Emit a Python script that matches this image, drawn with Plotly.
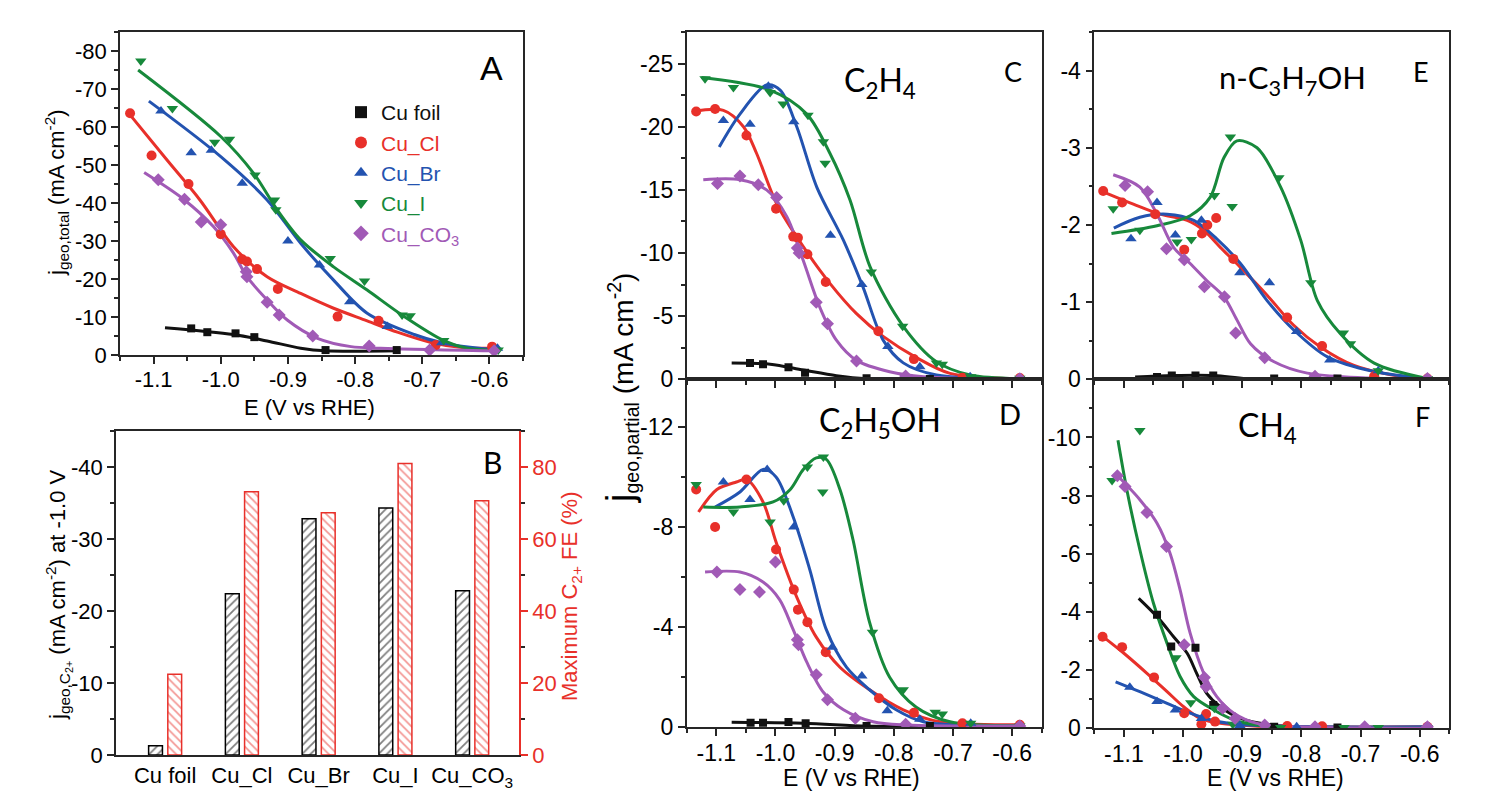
import plotly.graph_objects as go

W, H = 1495, 800

# ---------------- colours / names ----------------
series_names = ["Cu foil", "Cu_Cl", "Cu_Br", "Cu_I", "Cu_CO<sub>3</sub>"]
series_colors = ["#111111", "#e8302a", "#2353b0", "#17893b", "#a15ab6"]
series_symbols = ["square", "circle", "triangle-up", "triangle-down", "diamond"]

# ---------------- Panel A : total current ----------------
A_foil_E = [-1.044, -1.020, -0.978, -0.950, -0.844, -0.738]
A_foil_j = [-7.0, -6.0, -5.7, -4.7, -1.3, -1.3]
A_foil_fitE = [-1.083, -0.981, -0.931, -0.881, -0.844, -0.738]
A_foil_fitj = [-7.2, -5.4, -3.7, -1.8, -1.1, -1.1]

A_cl_E = [-1.135, -1.103, -1.048, -1.000, -0.968, -0.961, -0.946, -0.915, -0.826, -0.765, -0.680, -0.596]
A_cl_j = [-63.6, -52.5, -45.0, -31.8, -25.2, -24.6, -22.6, -17.4, -10.1, -9.0, -2.6, -2.2]
A_cl_fitE = [-1.135, -1.080, -1.031, -0.981, -0.931, -0.881, -0.832, -0.782, -0.737, -0.687, -0.638, -0.598]
A_cl_fitj = [-63.2, -51.3, -40.8, -28.5, -20.6, -16.2, -12.3, -9.0, -6.0, -3.3, -1.9, -1.8]

A_br_E = [-1.089, -1.044, -1.014, -0.968, -0.900, -0.853, -0.808, -0.752, -0.671, -0.588]
A_br_j = [-64.2, -53.2, -53.9, -45.2, -30.0, -23.7, -14.0, -7.5, -3.2, -1.8]
A_br_fitE = [-1.107, -1.000, -0.931, -0.881, -0.832, -0.782, -0.712, -0.672, -0.612, -0.588]
A_br_fitj = [-66.8, -52.2, -40.8, -29.4, -19.7, -11.0, -5.4, -3.3, -1.7, -1.5]

A_i_E = [-1.119, -1.072, -1.009, -0.987, -0.949, -0.920, -0.918, -0.837, -0.786, -0.730, -0.718, -0.668, -0.587]
A_i_j = [-77.4, -64.9, -56.0, -56.8, -47.4, -40.8, -38.2, -25.4, -19.5, -10.5, -10.3, -3.8, -1.3]
A_i_fitE = [-1.123, -1.000, -0.951, -0.916, -0.881, -0.832, -0.782, -0.730, -0.668, -0.633, -0.588]
A_i_fitj = [-75.0, -57.5, -47.8, -38.2, -30.3, -23.2, -17.1, -10.5, -3.8, -1.8, -1.3]

A_co3_E = [-1.093, -1.054, -1.029, -1.000, -0.962, -0.961, -0.931, -0.913, -0.863, -0.779, -0.689, -0.593]
A_co3_j = [-46.1, -41.0, -35.0, -34.3, -21.9, -20.6, -13.9, -10.5, -5.0, -2.4, -1.3, -1.1]
A_co3_fitE = [-1.114, -1.054, -1.011, -0.981, -0.961, -0.931, -0.901, -0.856, -0.806, -0.762, -0.593]
A_co3_fitj = [-48.0, -40.8, -33.8, -26.8, -20.6, -14.5, -9.2, -4.4, -2.2, -1.8, -1.1]

# ---------------- Panel B : bars ----------------
B_categories = ["Cu foil", "Cu_Cl", "Cu_Br", "Cu_I", "Cu_CO<sub>3</sub>"]
B_j_c2 = [-1.3, -22.4, -32.8, -34.3, -22.8]
B_fe_c2 = [22.4, 73.1, 67.3, 81.0, 70.6]

# ---------------- Panel C : C2H4 ----------------
C_foil_E = [-1.043, -1.021, -0.978, -0.950, -0.846, -0.739]
C_foil_j = [-1.3, -1.2, -0.95, -0.52, -0.08, -0.02]
C_foil_fitE = [-1.074, -1.009, -0.953, -0.897, -0.846, -0.739]
C_foil_fitj = [-1.3, -1.2, -0.74, -0.29, -0.05, -0.02]

C_cl_E = [-1.134, -1.102, -1.049, -0.999, -0.970, -0.962, -0.946, -0.915, -0.826, -0.766, -0.684, -0.587]
C_cl_j = [-21.2, -21.4, -19.3, -13.5, -11.3, -11.2, -9.9, -7.7, -3.8, -1.6, -0.13, -0.1]
C_cl_fitE = [-1.139, -1.088, -1.054, -1.032, -0.998, -0.953, -0.908, -0.863, -0.818, -0.761, -0.705, -0.587]
C_cl_fitj = [-21.2, -21.3, -20.0, -17.9, -13.9, -10.5, -7.6, -5.2, -3.4, -1.7, -0.47, -0.05]

C_br_E = [-1.088, -1.043, -1.012, -0.969, -0.907, -0.854, -0.810, -0.756, -0.671, -0.587]
C_br_j = [-20.5, -20.2, -23.2, -20.4, -11.4, -7.5, -2.6, -1.0, -0.2, -0.1]
C_br_fitE = [-1.095, -1.060, -1.015, -0.992, -0.964, -0.930, -0.885, -0.852, -0.818, -0.784, -0.728, -0.587]
C_br_fitj = [-18.4, -21.0, -23.3, -22.9, -20.0, -15.2, -11.0, -7.3, -3.1, -1.3, -0.34, -0.05]

C_i_E = [-1.119, -1.071, -1.009, -0.987, -0.945, -0.919, -0.916, -0.838, -0.785, -0.728, -0.718, -0.670, -0.587]
C_i_j = [-23.8, -23.1, -22.7, -21.8, -20.9, -18.8, -17.1, -8.5, -4.2, -1.3, -1.2, -0.2, -0.08]
C_i_fitE = [-1.125, -1.009, -0.947, -0.908, -0.874, -0.840, -0.784, -0.728, -0.671, -0.587]
C_i_fitj = [-23.9, -22.9, -21.0, -17.9, -14.2, -8.9, -4.2, -1.4, -0.34, -0.05]

C_co3_E = [-1.098, -1.060, -1.029, -0.998, -0.963, -0.960, -0.931, -0.912, -0.863, -0.780, -0.587]
C_co3_j = [-15.5, -16.1, -15.4, -14.4, -10.4, -10.0, -6.1, -4.4, -1.45, -0.26, -0.05]
C_co3_fitE = [-1.122, -1.060, -1.015, -0.981, -0.953, -0.925, -0.897, -0.863, -0.807, -0.750, -0.587]
C_co3_fitj = [-15.8, -15.8, -15.0, -12.9, -9.4, -5.7, -3.1, -1.5, -0.6, -0.2, 0.0]

# ---------------- Panel D : C2H5OH ----------------
D_foil_E = [-1.042, -1.021, -0.978, -0.949, -0.846, -0.739]
D_foil_j = [-0.18, -0.18, -0.21, -0.16, -0.05, -0.05]
D_foil_fitE = [-1.074, -0.953, -0.846, -0.739]
D_foil_fitj = [-0.2, -0.16, -0.05, -0.02]

D_cl_E = [-1.134, -1.102, -1.049, -0.999, -0.969, -0.962, -0.946, -0.915, -0.825, -0.766, -0.684, -0.587]
D_cl_j = [-9.5, -8.0, -9.9, -7.1, -5.5, -4.7, -4.2, -3.0, -1.16, -0.58, -0.16, -0.1]
D_cl_fitE = [-1.130, -1.099, -1.066, -1.049, -1.021, -0.999, -0.964, -0.931, -0.891, -0.841, -0.784, -0.722, -0.587]
D_cl_fitj = [-8.6, -9.5, -9.8, -9.9, -9.0, -7.4, -5.2, -3.6, -2.4, -1.5, -0.7, -0.22, -0.1]

D_br_E = [-1.088, -1.043, -1.014, -0.969, -0.904, -0.854, -0.811, -0.756, -0.670, -0.587]
D_br_j = [-9.8, -9.1, -10.3, -8.0, -3.2, -2.05, -0.66, -0.32, -0.16, -0.05]
D_br_fitE = [-1.102, -1.060, -1.021, -0.999, -0.970, -0.942, -0.914, -0.880, -0.841, -0.796, -0.750, -0.694, -0.587]
D_br_fitj = [-8.8, -9.4, -10.3, -10.0, -8.4, -6.3, -3.9, -2.4, -1.5, -0.7, -0.22, -0.09, -0.05]

D_i_E = [-1.134, -1.071, -1.009, -0.986, -0.946, -0.919, -0.920, -0.836, -0.784, -0.730, -0.718, -0.670, -0.587]
D_i_j = [-9.7, -8.6, -8.2, -9.05, -10.4, -10.8, -9.4, -3.8, -1.5, -0.6, -0.53, -0.16, -0.05]
D_i_fitE = [-1.122, -1.060, -1.004, -0.975, -0.953, -0.931, -0.914, -0.891, -0.869, -0.841, -0.807, -0.762, -0.705, -0.587]
D_i_fitj = [-8.8, -8.8, -9.0, -9.5, -10.3, -10.76, -10.7, -9.5, -7.5, -4.2, -2.0, -0.8, -0.22, -0.05]

D_co3_E = [-1.099, -1.060, -1.027, -1.000, -0.963, -0.961, -0.931, -0.912, -0.865, -0.780, -0.587]
D_co3_j = [-6.2, -5.5, -5.4, -6.6, -3.5, -3.3, -2.1, -1.1, -0.36, -0.12, -0.05]
D_co3_fitE = [-1.119, -1.060, -1.021, -0.993, -0.970, -0.947, -0.919, -0.885, -0.835, -0.778, -0.587]
D_co3_fitj = [-6.2, -6.2, -5.8, -5.1, -3.9, -2.6, -1.4, -0.7, -0.22, -0.09, -0.05]

# ---------------- Panel E : n-C3H7OH ----------------
E_foil_E = [-1.044, -1.019, -0.979, -0.949, -0.846, -0.739]
E_foil_j = [-0.03, -0.05, -0.05, -0.05, -0.01, -0.01]
E_foil_fitE = [-1.081, -1.016, -0.947, -0.892, -0.734]
E_foil_fitj = [-0.03, -0.05, -0.05, -0.01, 0.0]

E_cl_E = [-1.135, -1.103, -1.047, -0.998, -0.968, -0.959, -0.944, -0.915, -0.824, -0.765, -0.677, -0.587]
E_cl_j = [-2.44, -2.29, -2.14, -1.68, -1.89, -2.0, -2.09, -1.56, -0.80, -0.43, -0.04, -0.01]
E_cl_fitE = [-1.135, -1.084, -1.039, -0.993, -0.965, -0.937, -0.903, -0.858, -0.813, -0.768, -0.711, -0.649, -0.587]
E_cl_fitj = [-2.43, -2.27, -2.14, -2.06, -1.93, -1.71, -1.45, -1.09, -0.70, -0.42, -0.18, -0.06, -0.01]

E_br_E = [-1.088, -1.044, -1.013, -0.969, -0.904, -0.854, -0.808, -0.752, -0.670, -0.587]
E_br_j = [-1.82, -2.29, -1.87, -2.06, -1.38, -1.25, -0.62, -0.25, -0.11, -0.01]
E_br_fitE = [-1.117, -1.073, -1.027, -0.982, -0.943, -0.903, -0.858, -0.813, -0.756, -0.677, -0.587]
E_br_fitj = [-1.96, -2.10, -2.14, -2.06, -1.82, -1.50, -1.02, -0.64, -0.29, -0.10, -0.01]

E_i_E = [-1.118, -1.073, -1.010, -0.986, -0.947, -0.917, -0.920, -0.838, -0.784, -0.729, -0.717, -0.670, -0.587]
E_i_j = [-2.21, -1.93, -1.78, -1.81, -2.38, -2.24, -3.14, -2.61, -1.25, -0.60, -0.46, -0.11, -0.01]
E_i_fitE = [-1.121, -1.044, -0.988, -0.954, -0.931, -0.909, -0.875, -0.835, -0.801, -0.773, -0.734, -0.677, -0.587]
E_i_fitj = [-1.89, -1.99, -2.12, -2.36, -2.87, -3.09, -3.0, -2.49, -1.80, -1.02, -0.59, -0.21, -0.01]

E_co3_E = [-1.098, -1.060, -1.028, -0.998, -0.964, -0.930, -0.911, -0.862, -0.777, -0.587]
E_co3_j = [-2.51, -2.43, -1.69, -1.55, -1.20, -1.07, -0.60, -0.28, -0.04, -0.01]
E_co3_fitE = [-1.118, -1.073, -1.044, -1.016, -0.988, -0.960, -0.931, -0.909, -0.886, -0.847, -0.790, -0.587]
E_co3_fitj = [-2.65, -2.49, -2.14, -1.71, -1.50, -1.28, -1.07, -0.77, -0.46, -0.23, -0.08, 0.0]

# ---------------- Panel F : CH4 ----------------
F_foil_E = [-1.044, -1.020, -0.979, -0.949, -0.846, -0.739]
F_foil_j = [-3.90, -2.81, -2.77, -0.80, -0.05, -0.03]
F_foil_fitE = [-1.075, -1.044, -1.016, -0.993, -0.977, -0.960, -0.937, -0.903, -0.847, -0.734]
F_foil_fitj = [-4.47, -3.84, -3.15, -2.58, -1.89, -1.20, -0.74, -0.34, -0.11, 0.0]

F_cl_E = [-1.136, -1.103, -1.049, -0.998, -0.969, -0.961, -0.946, -0.824, -0.765, -0.587]
F_cl_j = [-3.15, -2.79, -1.75, -0.52, -0.14, -0.49, -0.23, -0.08, -0.07, -0.05]
F_cl_fitE = [-1.137, -1.100, -1.061, -1.027, -0.999, -0.971, -0.937, -0.880, -0.587]
F_cl_fitj = [-3.18, -2.58, -1.89, -1.26, -0.74, -0.34, -0.17, -0.08, -0.05]

F_br_E = [-1.090, -1.044, -1.013, -0.969, -0.904, -0.808, -0.587]
F_br_j = [-1.41, -0.92, -0.63, -0.34, -0.10, -0.05, -0.05]
F_br_fitE = [-1.114, -1.073, -1.027, -0.988, -0.948, -0.892, -0.587]
F_br_fitj = [-1.60, -1.26, -0.86, -0.52, -0.26, -0.11, -0.05]

F_i_E = [-1.120, -1.073, -1.012, -0.987, -0.947, -0.916, -0.835, -0.728, -0.670, -0.587]
F_i_j = [-8.52, -10.24, -2.43, -0.88, -0.69, -0.14, -0.03, -0.03, -0.03, -0.03]
F_i_fitE = [-1.110, -1.095, -1.073, -1.050, -1.027, -1.005, -0.982, -0.948, -0.914, -0.875, -0.818, -0.587]
F_i_fitj = [-9.9, -8.2, -6.14, -4.30, -2.92, -1.78, -1.09, -0.63, -0.29, -0.11, -0.03, 0.0]

F_co3_E = [-1.111, -1.098, -1.061, -1.028, -0.998, -0.964, -0.961, -0.933, -0.912, -0.862, -0.777, -0.693, -0.587]
F_co3_j = [-8.68, -8.31, -7.42, -6.25, -2.87, -1.75, -1.43, -0.69, -0.34, -0.11, -0.05, -0.05, -0.05]
F_co3_fitE = [-1.114, -1.073, -1.044, -1.022, -1.005, -0.988, -0.965, -0.943, -0.914, -0.875, -0.818, -0.587]
F_co3_fitj = [-8.75, -7.86, -7.05, -6.02, -4.76, -3.27, -1.89, -1.09, -0.52, -0.17, -0.06, 0.0]

# tick values
E_ticks = [-1.1, -1.0, -0.9, -0.8, -0.7, -0.6]
A_yticks = [0, -10, -20, -30, -40, -50, -60, -70, -80]
B_yticks = [0, -10, -20, -30, -40]
B_y2ticks = [0, 20, 40, 60, 80]
C_yticks = [0, -5, -10, -15, -20, -25]
D_yticks = [0, -4, -8, -12]
E_yticks = [0, -1, -2, -3, -4]
F_yticks = [0, -2, -4, -6, -8, -10]

panels = {
    "A": ("x", "y", [(A_foil_E, A_foil_j, A_foil_fitE, A_foil_fitj), (A_cl_E, A_cl_j, A_cl_fitE, A_cl_fitj),
                     (A_br_E, A_br_j, A_br_fitE, A_br_fitj), (A_i_E, A_i_j, A_i_fitE, A_i_fitj),
                     (A_co3_E, A_co3_j, A_co3_fitE, A_co3_fitj)]),
    "C": ("x3", "y4", [(C_foil_E, C_foil_j, C_foil_fitE, C_foil_fitj), (C_cl_E, C_cl_j, C_cl_fitE, C_cl_fitj),
                       (C_br_E, C_br_j, C_br_fitE, C_br_fitj), (C_i_E, C_i_j, C_i_fitE, C_i_fitj),
                       (C_co3_E, C_co3_j, C_co3_fitE, C_co3_fitj)]),
    "D": ("x4", "y5", [(D_foil_E, D_foil_j, D_foil_fitE, D_foil_fitj), (D_cl_E, D_cl_j, D_cl_fitE, D_cl_fitj),
                       (D_br_E, D_br_j, D_br_fitE, D_br_fitj), (D_i_E, D_i_j, D_i_fitE, D_i_fitj),
                       (D_co3_E, D_co3_j, D_co3_fitE, D_co3_fitj)]),
    "E": ("x5", "y6", [(E_foil_E, E_foil_j, E_foil_fitE, E_foil_fitj), (E_cl_E, E_cl_j, E_cl_fitE, E_cl_fitj),
                       (E_br_E, E_br_j, E_br_fitE, E_br_fitj), (E_i_E, E_i_j, E_i_fitE, E_i_fitj),
                       (E_co3_E, E_co3_j, E_co3_fitE, E_co3_fitj)]),
    "F": ("x6", "y7", [(F_foil_E, F_foil_j, F_foil_fitE, F_foil_fitj), (F_cl_E, F_cl_j, F_cl_fitE, F_cl_fitj),
                       (F_br_E, F_br_j, F_br_fitE, F_br_fitj), (F_i_E, F_i_j, F_i_fitE, F_i_fitj),
                       (F_co3_E, F_co3_j, F_co3_fitE, F_co3_fitj)]),
}

fig = go.Figure()

for key, (xa, ya, sers) in panels.items():
    for k, (pe, pj, fe_, fj) in enumerate(sers):
        col = series_colors[k]
        fig.add_trace(go.Scatter(x=fe_, y=fj, mode="lines", xaxis=xa, yaxis=ya,
                                 line=dict(color=col, width=3, shape="spline", smoothing=0.9),
                                 showlegend=False, hoverinfo="skip"))
    for k, (pe, pj, fe_, fj) in enumerate(sers):
        col = series_colors[k]
        size = 10 if series_symbols[k] != "square" else 8
        fig.add_trace(go.Scatter(x=pe, y=pj, mode="markers", xaxis=xa, yaxis=ya,
                                 marker=dict(symbol=series_symbols[k], color=col, size=size, line=dict(width=0)),
                                 name=f"<span style='color:{col}'>{series_names[k]}</span>",
                                 showlegend=(key == "A"), legendrank=k + 1))

# Panel B bars
fig.add_trace(go.Bar(x=B_categories, y=B_j_c2, xaxis="x2", yaxis="y2", offset=-0.215, width=0.18,
                     marker=dict(color="white", line=dict(color="black", width=1.5),
                                 pattern=dict(shape="/", fgcolor="black", bgcolor="white", size=6, solidity=0.3)),
                     showlegend=False))
fig.add_trace(go.Bar(x=B_categories, y=B_fe_c2, xaxis="x2", yaxis="y3", offset=0.035, width=0.18,
                     marker=dict(color="white", line=dict(color="#e8302a", width=1.5),
                                 pattern=dict(shape="\\", fgcolor="#e8302a", bgcolor="white", size=6, solidity=0.3)),
                     showlegend=False))


def px_x(a, b):
    return [a / W, b / W]


def px_y(top, bottom):
    return [1 - bottom / H, 1 - top / H]


LC = "#262626"
TF = "Liberation Sans, Arial, sans-serif"


def fmt(v, dec):
    s = f"{abs(v):.{dec}f}"
    return ("-" + s) if v < 0 else s


def axis(domain, anchor, size, minor_dtick=None, tickvals=None, dec=0, **kw):
    d = dict(domain=domain, anchor=anchor, showline=True, linecolor=LC, linewidth=1.6, mirror=True,
             ticks="outside", ticklen=7, tickwidth=1.5, tickcolor=LC, showgrid=False, zeroline=False,
             tickfont=dict(size=size, color="black", family=TF), automargin=False)
    if tickvals is not None:
        d["tickvals"] = tickvals
        d["ticktext"] = [fmt(v, dec) for v in tickvals]
    if minor_dtick is not None:
        d["minor"] = dict(dtick=minor_dtick, ticks="outside", ticklen=4, tickwidth=1.5, tickcolor=LC, showgrid=False)
    d.update(kw)
    return d


xA = px_x(120, 523)
xB = px_x(116, 519)
xCD = px_x(686.7, 1041.7)
xEF = px_x(1094.3, 1449.3)
yA = px_y(32, 355)
yB = px_y(431, 755)
yCE = px_y(32, 379.3)
yD = px_y(379.3, 727.3)
yF = px_y(379.3, 728.3)

erange = [-1.15, -0.55]
fig.update_layout(
    xaxis=axis(xA, "y", 22, 0.05, E_ticks, 1, range=erange, ticklabelstandoff=-3),
    yaxis=axis(yA, "x", 22, 5, A_yticks, 0, range=[0, -85]),
    xaxis2=axis(xB, "y2", 22, None, None, range=[-0.64, 4.61], ticks="", type="category"),
    yaxis2=axis(yB, "x2", 22, 5, B_yticks, 0, range=[0, -45], mirror=False),
    yaxis3=axis(yB, "x2", 22, 10, B_y2ticks, 0, range=[0, 90], overlaying="y2", side="right",
                mirror=False, linecolor="#e8302a", tickcolor="#e8302a",
                tickfont=dict(size=22, color="#e8302a", family=TF)),
    xaxis3=axis(xCD, "y4", 23, 0.05, E_ticks, 1, range=erange, showticklabels=False),
    yaxis4=axis(yCE, "x3", 23, 2.5, C_yticks, 0, range=[0, -27.5]),
    xaxis4=axis(xCD, "y5", 23, 0.05, E_ticks, 1, range=erange, ticklabelstandoff=-3),
    yaxis5=axis(yD, "x4", 23, 2, D_yticks, 0, range=[0, -13.9]),
    xaxis5=axis(xEF, "y6", 23, 0.05, E_ticks, 1, range=erange, showticklabels=False),
    yaxis6=axis(yCE, "x5", 23, 0.5, E_yticks, 0, range=[0, -4.5]),
    xaxis6=axis(xEF, "y7", 23, 0.05, E_ticks, 1, range=erange, ticklabelstandoff=-3),
    yaxis7=axis(yF, "x6", 23, 1, F_yticks, 0, range=[0, -12]),
)
fig.update_layout(barmode="overlay")

ann = []


def add_text(text, x, y, size, family=TF, color="black", angle=0):
    ann.append(dict(text=text, x=x / W, y=1 - y / H, xref="paper", yref="paper", showarrow=False,
                    font=dict(size=size, family=family, color=color), textangle=angle,
                    xanchor="center", yanchor="middle"))


LATO = "Lato, Open Sans, sans-serif"
# axis titles
add_text("j<sub>geo,total</sub> (mA cm<sup>-2</sup>)", 57, 193, 22, angle=-90)
add_text("E (V vs RHE)", 309, 407, 22)
add_text("j<sub>geo,C<sub>2+</sub></sub> (mA cm<sup>-2</sup>) at -1.0 V", 58, 595, 22, angle=-90)
add_text("Maximum C<sub>2+</sub> FE (%)", 571, 597, 22, color="#e8302a", angle=-90)
add_text("<span style='font-size:38px'>j</span><sub>geo,partial</sub> (mA cm<sup>-2</sup>)", 621, 388, 28, angle=-90)
add_text("E (V vs RHE)", 851, 778, 23)
add_text("E (V vs RHE)", 1275, 778, 23)
# panel letters
add_text("A", 491, 68, 34)
add_text("B", 492, 462, 30, family=LATO)
add_text("C", 1013, 71, 27, family=LATO)
add_text("D", 1010, 413, 29, family=LATO)
add_text("E", 1421, 71, 27, family=LATO)
add_text("F", 1422, 416, 27, family=LATO)
# compound labels
add_text("C<sub>2</sub>H<sub>4</sub>", 880, 82, 32, family=LATO)
add_text("C<sub>2</sub>H<sub>5</sub>OH", 880, 422, 32, family=LATO)
add_text("n-C<sub>3</sub>H<sub>7</sub>OH", 1292, 80, 31, family=LATO)
add_text("CH<sub>4</sub>", 1267, 427, 32, family=LATO)

fig.update_layout(
    annotations=ann,
    width=W, height=H, autosize=False, margin=dict(l=0, r=0, t=0, b=0, pad=0, autoexpand=False),
    paper_bgcolor="white", plot_bgcolor="white",
    font=dict(family=TF, color="black"),
    legend=dict(x=341 / W, y=1 - 92 / H, xanchor="left", yanchor="top", bgcolor="rgba(0,0,0,0)",
                font=dict(size=21, family=TF), itemwidth=30, tracegroupgap=0, itemsizing="constant"),
)

fig.write_html("out.html", config={"responsive": False})
